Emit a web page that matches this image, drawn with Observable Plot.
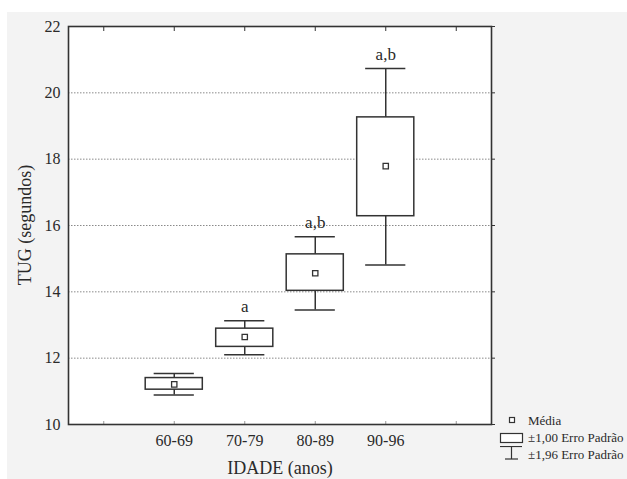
<!DOCTYPE html>
<html>
<head>
<meta charset="utf-8">
<script src="https://cdn.jsdelivr.net/npm/d3@7"></script>
<script src="https://cdn.jsdelivr.net/npm/@observablehq/plot@0.6"></script>
<style>
  html, body { margin: 0; padding: 0; background: white; }
  #wrap { position: relative; width: 627px; height: 479px; overflow: hidden; font-family: "Liberation Serif", "Times New Roman", serif; color: #2a2a2a; }
  #bg { position: absolute; left: 7px; top: 12px; right: 0; bottom: 0; background: #f3f3f3; }
  #chart { position: absolute; left: 0; top: 0; }
  #chart svg text { font-family: "Liberation Serif", "Times New Roman", serif; }
  .ylab { position: absolute; left: 25px; top: 225px; transform: translate(-50%, -50%) rotate(-90deg); font-size: 18px; white-space: nowrap; }
  .xlab { position: absolute; left: 280px; top: 468px; transform: translate(-50%, -50%); font-size: 18px; white-space: nowrap; }
  .legend { position: absolute; left: 498px; top: 412px; font-size: 13px; white-space: nowrap; }
  .legend .row { position: relative; height: 17px; line-height: 17px; }
  .legend svg { position: absolute; left: 0; top: 0; }
  .legend span { position: absolute; left: 30px; }
</style>
</head>
<body>
<div id="wrap">
  <div id="bg"></div>
  <div id="chart"></div>
  <div class="ylab">TUG (segundos)</div>
  <div class="xlab">IDADE (anos)</div>
  <div class="legend">
    <div class="row"><svg width="28" height="17"><rect x="11.5" y="5.5" width="5" height="5" fill="white" stroke="#333" stroke-width="1.2"/></svg><span>Média</span></div>
    <div class="row"><svg width="28" height="17"><rect x="2.5" y="4.5" width="22" height="9" fill="white" stroke="#333" stroke-width="1.2"/></svg><span>±1,00 Erro Padrão</span></div>
    <div class="row"><svg width="28" height="17"><line x1="2" x2="24" y1="0.5" y2="0.5" stroke="#333" stroke-width="1.2"/><line x1="13.5" x2="13.5" y1="0.5" y2="13" stroke="#333" stroke-width="1.2"/><line x1="7" x2="20" y1="13" y2="13" stroke="#333" stroke-width="1.2"/></svg><span>±1,96 Erro Padrão</span></div>
  </div>
</div>
<script>
const categories = ["60-69", "70-79", "80-89", "90-96"];
const tickLabels = ["", "60-69", "70-79", "80-89", "90-96", ""];
const means = [11.21, 12.64, 14.56, 17.79];
const boxLow = [11.05, 12.34, 14.03, 16.28];
const boxHigh = [11.40, 12.89, 15.13, 19.26];
const whiskerLow = [10.89, 12.10, 13.45, 14.81];
const whiskerHigh = [11.54, 13.13, 15.66, 20.73];
const letters = ["", "a", "a,b", "a,b"];
const yTicks = [10, 12, 14, 16, 18, 20, 22];
const gridValues = [12, 14, 16, 18, 20];

const data = categories.map((c, k) => ({
  pos: tickLabels.indexOf(c),
  mean: means[k],
  bLo: boxLow[k], bHi: boxHigh[k],
  wLo: whiskerLow[k], wHi: whiskerHigh[k],
  letter: letters[k]
}));
const xPositions = d3.range(tickLabels.length);
const ink = "#333";
const serif = "'Liberation Serif', 'Times New Roman', serif";

const chart = Plot.plot({
  width: 627,
  height: 479,
  marginLeft: 68,
  marginRight: 136,
  marginTop: 26,
  marginBottom: 55,
  style: "background: transparent; font-family: 'Liberation Serif', 'Times New Roman', serif; color: #2a2a2a;",
  x: { type: "linear", domain: [-0.5, 5.5] },
  y: { domain: [10, 22] },
  marks: [
    Plot.frame({ fill: "white", stroke: null }),
    Plot.ruleY(gridValues, { stroke: "#8a8a8a", strokeDasharray: "1.5,1.5", strokeWidth: 1 }),
    Plot.axisY(yTicks, { anchor: "left", tickSize: 0, tickPadding: 8, fontSize: 16, fontFamily: serif, label: null }),
    Plot.axisY(yTicks, { anchor: "right", tickSize: 3, tickFormat: () => "", label: null, stroke: ink }),
    Plot.axisX(xPositions, { anchor: "bottom", tickSize: 0, tickPadding: 10, tickFormat: i => tickLabels[i], fontSize: 16, fontFamily: serif, label: null }),
    Plot.axisX(xPositions, { anchor: "top", tickSize: -4, tickFormat: () => "", label: null, stroke: ink }),
    Plot.axisX(xPositions, { anchor: "bottom", tickSize: -3, tickFormat: () => "", label: null, stroke: "#999" }),
    Plot.ruleX(data, { x: "pos", y1: "wLo", y2: "wHi", stroke: ink, strokeWidth: 1.5 }),
    Plot.ruleY(data, { y: "wHi", x1: d => d.pos - 0.285, x2: d => d.pos + 0.285, stroke: ink, strokeWidth: 1.5 }),
    Plot.ruleY(data, { y: "wLo", x1: d => d.pos - 0.285, x2: d => d.pos + 0.285, stroke: ink, strokeWidth: 1.5 }),
    Plot.rect(data, { x1: d => d.pos - 0.405, x2: d => d.pos + 0.405, y1: "bLo", y2: "bHi", fill: "white", stroke: ink, strokeWidth: 1.5 }),
    Plot.dot(data, { x: "pos", y: "mean", symbol: "square", r: 3, fill: "white", stroke: ink, strokeWidth: 1.3 }),
    Plot.text(data, { x: "pos", y: "wHi", text: "letter", dy: -9, lineAnchor: "bottom", fontSize: 17, fontFamily: serif, fill: "#2a2a2a" }),
    Plot.frame({ stroke: ink, strokeWidth: 1.6 })
  ]
});
document.getElementById("chart").appendChild(chart);
</script>
</body>
</html>
